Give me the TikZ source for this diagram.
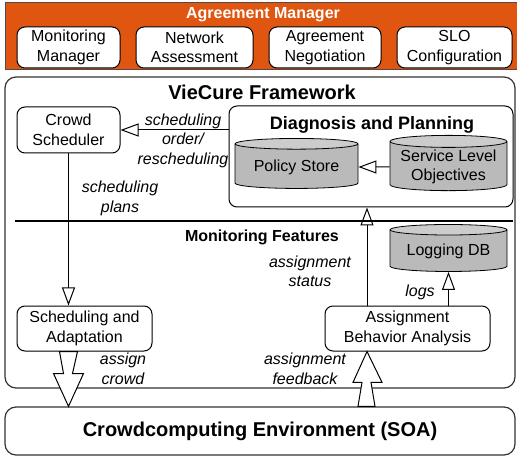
\documentclass[tikz,border=0pt]{standalone}
\usepackage{fontspec}
\setmainfont{Liberation Sans}
\usetikzlibrary{positioning,calc}
\usetikzlibrary{shapes.geometric,arrows.meta}
\definecolor{amorange}{RGB}{224,86,16}
\tikzset{
  bx/.style={rectangle, rounded corners=8pt, draw=black, fill=white, line width=1pt, align=center, inner sep=2pt, minimum height=45pt},
  big/.style={rectangle, rounded corners=11pt, draw=black!80, line width=1.2pt},
  db/.style={cylinder, shape border rotate=90, aspect=0.12, draw=black, line width=0.8pt, align=center, inner sep=2pt,
    cylinder uses custom fill, cylinder body fill=black!27, cylinder end fill=black!20},
  ttl/.style={font=\bfseries\fontsize{16}{19}\selectfont},
  lbl/.style={font=\itshape\fontsize{16}{19.5}\selectfont, align=center, inner sep=0pt},
  op/.style={-{Triangle[open, length=18pt, width=13pt]}, line width=1pt},
  fat/.style={draw=black, fill=white, line width=1pt, line join=miter},
  every node/.append style={font=\fontsize{16}{19.5}\selectfont},
  node distance=15pt
}
\begin{document}
\begin{tikzpicture}[x=1pt, y=-1pt]
	\useasboundingbox (0,0) rectangle (517,457);
	% agreement manager
	\node[rectangle, draw=black!70, fill=amorange, line width=1pt, minimum width=516pt, minimum height=67pt] (am) at (263,36.5) {};
	\node[ttl, text=white] (amt) at (263,15) {Agreement Manager};
	\node[bx, minimum width=103pt, minimum height=41pt] (mm) at (68.5,47.5) {Monitoring\\Manager};
	\node[bx, minimum width=117pt, minimum height=41pt, right=of mm] (na) {Network\\Assessment};
	\node[bx, minimum width=112pt, minimum height=41pt, right=of na] (an) {Agreement\\Negotiation};
	\node[bx, minimum width=115pt, minimum height=41pt, right=of an] (sc) {SLO\\Configuration};
	% framework
	\node[big, minimum width=510pt, minimum height=311pt] (vc) at (260,232.5) {};
	\node[ttl, font=\bfseries\fontsize{20}{24}\selectfont] (vct) at (262,92) {VieCure Framework};
	\node[bx, minimum width=103pt, minimum height=46pt] (cs) at (68.5,130) {Crowd\\Scheduler};
	\node[bx, minimum width=284pt, minimum height=101pt] (dp) at (371,156.5) {};
	\node[ttl, font=\bfseries\fontsize{18}{22}\selectfont] (dpt) at (372,125) {Diagnosis and Planning};
	\node[db, minimum width=123pt, minimum height=50pt] (ps) at (296.5,167) {Policy Store};
	\node[db, minimum width=117pt, minimum height=50pt] (slo) at (448.5,167) {Service Level\\Objectives};
	\draw[line width=2pt] (15,221) -- (513,221);
	\node[ttl] (mf) at (262,237) {Monitoring Features};
	\node[db, minimum width=117pt, minimum height=47pt] (ldb) at (448.5,251.5) {Logging DB};
	\node[bx, minimum width=135pt] (sa) at (84.5,328.5) {Scheduling and\\Adaptation};
	\node[bx, minimum width=165pt] (aba) at (407.5,328.5) {Assignment\\Behavior Analysis};
	% environment
	\node[big, minimum width=510pt, minimum height=48pt, font=\bfseries\fontsize{20}{24}\selectfont] (ce) at (260,431) {Crowdcomputing Environment (SOA)};
	%
	\draw[op] (cs.east -| dp.west) -- (cs.east);
	\node[lbl] at (183,140.5) {scheduling\\order/\\rescheduling};
	\draw[op] (slo) -- (ps);
	\draw[op] (cs.south) -- (cs.south |- sa.north);
	\node[lbl] at (120,198.5) {scheduling\\plans};
	\path (aba.north) ++(-40.5,0) coordinate (abt);
	\draw[op] (abt) -- (abt |- dp.south);
	\node[lbl] at (310,271.5) {assignment\\status};
	\draw[op] (aba.north -| ldb.center) -- (ldb.south);
	\node[lbl] at (420,292) {logs};
	% fat arrows
	\coordinate (ac) at (cs.south |- sa.south);
	\draw[fat] ($(ac)+(-9,0)$) -- ($(ac)+(9,0)$) -- ($(ac)+(4,22)$) -- ($(ac)+(15,22)$)
	  -- (ac |- ce.north) -- ($(ac)+(-15,22)$) -- ($(ac)+(-5,22)$) -- cycle;
	\node[lbl] at (123,369) {assign\\crowd};
	\coordinate (af) at (abt |- ce.north);
	\draw[fat] ($(af)+(-9,0)$) -- ($(af)+(8,0)$) -- ($(af)+(4,-24)$) -- ($(af)+(15,-24)$)
	  -- (af |- aba.south) -- ($(af)+(-14,-24)$) -- ($(af)+(-5,-24)$) -- cycle;
	\node[lbl] at (305,369) {assignment\\feedback};
\end{tikzpicture}
\end{document}
